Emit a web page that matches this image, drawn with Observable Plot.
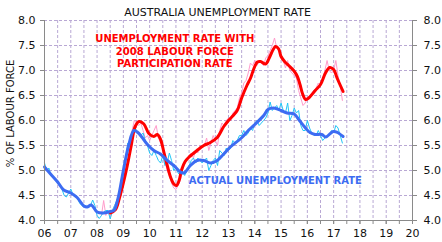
<!DOCTYPE html>
<html><head><meta charset="utf-8">
<script src="https://cdn.jsdelivr.net/npm/d3@7"></script>
<script src="https://cdn.jsdelivr.net/npm/@observablehq/plot@0.6"></script>
<style>html,body{margin:0;padding:0;background:#fff} svg{display:block}</style>
</head><body><div id="chart"></div>
<script>
const title = "AUSTRALIA UNEMPLOYMENT RATE";
const yLabel = "% OF LABOUR FORCE";
const redLabel = "UNEMPLOYMENT RATE WITH\n2008 LABOUR FORCE\nPARTICIPATION RATE";
const blueLabel = "ACTUAL UNEMPLOYMENT RATE";

const yearTicks = [2006,2007,2008,2009,2010,2011,2012,2013,2014,2015,2016,2017,2018,2019,2020];
const yearLabels = ["06","07","08","09","10","11","12","13","14","15","16","17","18","19","20"];
const halfYears = [2006,2006.5,2007,2007.5,2008,2008.5,2009,2009.5,2010,2010.5,2011,2011.5,2012,2012.5,2013,2013.5,2014,2014.5,2015,2015.5,2016,2016.5,2017,2017.5,2018,2018.5,2019,2019.5,2020];
const yTicks = [4,4.5,5,5.5,6,6.5,7,7.5,8];

// actual unemployment rate, monthly from Jan 2006
const actualStart = 2006;
const actualMonthly = [
 5.15,5.0,5.05,4.9,4.85,4.8,4.75,4.72,4.62,4.5,4.47,4.55,
 4.63,4.52,4.5,4.45,4.35,4.3,4.27,4.3,4.25,4.3,4.41,4.3,
 4.1,4.04,4.1,4.17,4.2,4.2,4.03,4.2,4.3,4.4,4.5,4.75,
 4.95,5.2,5.55,5.5,5.75,5.88,5.8,5.75,5.7,5.75,5.6,5.5,
 5.35,5.3,5.4,5.3,5.2,5.15,5.3,5.1,5.15,5.35,5.2,5.0,
 5.05,4.95,4.9,5.0,4.9,5.0,5.1,5.2,5.25,5.15,5.25,5.2,
 5.15,5.2,5.25,5.0,5.1,5.2,5.25,5.1,5.4,5.35,5.3,5.45,
 5.4,5.45,5.6,5.55,5.6,5.7,5.7,5.8,5.7,5.75,5.85,5.8,
 5.95,6.0,5.9,5.95,6.0,6.05,6.15,6.37,6.2,6.25,6.3,6.2,
 6.35,6.2,6.15,6.35,6.0,6.1,6.25,6.15,6.2,5.9,5.8,5.8,
 6.0,5.85,5.75,5.7,5.7,5.8,5.7,5.6,5.65,5.7,5.7,5.8,
 5.75,5.9,5.85,5.7,5.55
];
// rate with 2008 participation, monthly from Mar 2008
const adjustedStart = 2008 + 2/12;
const adjustedMonthly = [
 4.1,4.4,4.1,4.2,4.05,4.2,4.3,4.4,4.5,4.7,
 4.8,5.1,5.45,5.5,5.8,6.0,5.95,5.9,5.95,5.8,5.65,5.7,
 5.6,5.7,5.8,5.9,5.65,5.55,5.5,5.2,5.0,4.9,4.75,4.65,
 4.62,4.7,4.8,5.0,5.15,5.2,5.3,5.35,5.25,5.4,5.35,5.5,
 5.45,5.5,5.65,5.4,5.55,5.7,5.6,5.5,5.8,5.95,5.9,6.0,
 6.05,6.0,6.15,6.2,6.25,6.45,6.55,6.75,6.8,6.95,7.15,7.1,
 7.2,7.1,7.2,7.15,7.1,7.25,7.3,7.4,7.5,7.65,7.45,7.4,
 7.3,7.2,7.05,7.2,7.0,6.95,6.9,6.85,6.6,6.45,6.3,6.35,
 6.45,6.5,6.55,6.6,6.65,6.75,6.7,6.85,7.0,7.2,7.0,6.95,
 7.0,7.2,6.9,6.7,6.4
];
// smoothed (trend) lines
const actualTrendT = [2006.0,2006.23,2006.5,2006.73,2007.0,2007.24,2007.5,2007.62,2007.78,2008.0,2008.25,2008.5,2008.64,2008.8,2009.0,2009.2,2009.4,2009.55,2009.7,2009.9,2010.16,2010.41,2010.67,2010.92,2011.17,2011.3,2011.55,2011.8,2012.06,2012.31,2012.57,2012.82,2013.07,2013.49,2013.77,2014.0,2014.34,2014.5,2014.72,2015.0,2015.23,2015.5,2015.7,2015.93,2016.1,2016.3,2016.55,2016.7,2016.98,2017.15,2017.36];
const actualTrendV = [5.07,4.93,4.77,4.61,4.55,4.46,4.29,4.27,4.31,4.17,4.15,4.18,4.2,4.45,5.0,5.5,5.8,5.76,5.67,5.53,5.4,5.33,5.2,5.1,4.97,4.95,5.1,5.2,5.2,5.15,5.2,5.33,5.47,5.65,5.81,5.92,6.1,6.22,6.25,6.2,6.15,6.13,6.0,5.85,5.76,5.72,5.72,5.67,5.78,5.76,5.68];
const adjustedTrendT = [2008.5,2008.7,2008.85,2009.0,2009.15,2009.3,2009.45,2009.6,2009.78,2009.97,2010.16,2010.29,2010.41,2010.54,2010.67,2010.8,2010.92,2011.02,2011.12,2011.22,2011.35,2011.5,2011.8,2012.06,2012.31,2012.57,2012.82,2013.0,2013.33,2013.5,2013.7,2013.84,2013.96,2014.1,2014.22,2014.41,2014.55,2014.7,2014.79,2014.91,2015.0,2015.15,2015.29,2015.48,2015.62,2015.72,2015.82,2015.93,2016.05,2016.3,2016.5,2016.69,2016.85,2017.0,2017.13,2017.36];
const adjustedTrendV = [4.15,4.22,4.45,4.75,5.1,5.5,5.88,5.98,5.93,5.74,5.68,5.72,5.63,5.37,5.1,4.86,4.73,4.7,4.8,5.02,5.18,5.27,5.4,5.5,5.56,5.66,5.88,6.0,6.2,6.45,6.7,6.85,7.03,7.17,7.18,7.13,7.25,7.42,7.48,7.43,7.28,7.17,7.1,7.0,6.88,6.72,6.53,6.42,6.45,6.6,6.72,6.95,7.06,7.02,6.85,6.58];

const actual = actualMonthly.map((v, i) => ({t: actualStart + i / 12, v}));
const adjusted = adjustedMonthly.map((v, i) => ({t: adjustedStart + i / 12, v}));
const actualTrend = actualTrendT.map((t, i) => ({t, v: actualTrendV[i]}));
const adjustedTrend = adjustedTrendT.map((t, i) => ({t, v: adjustedTrendV[i]}));

const grid = {stroke: "#b9a8d4", strokeOpacity: 1, strokeDasharray: "3,2", strokeWidth: 1};
const axisColor = "#8a8a8a";

const chart = Plot.plot({
  width: 442, height: 242,
  marginLeft: 44, marginRight: 30, marginTop: 20, marginBottom: 22,
  style: {fontFamily: "DejaVu Sans, Verdana, sans-serif", fontSize: "11px", color: "#111", background: "#fff"},
  x: {domain: [2006, 2020]},
  y: {domain: [4, 8]},
  marks: [
    Plot.gridX(halfYears, grid),
    Plot.gridY(yTicks, grid),
    Plot.line(adjusted, {x: "t", y: "v", stroke: "#ff9ccc", strokeWidth: 1}),
    Plot.line(actual, {x: "t", y: "v", stroke: "#22c6f7", strokeWidth: 1}),
    Plot.line(adjustedTrend, {x: "t", y: "v", stroke: "#ff0000", strokeWidth: 3, curve: "catmull-rom", strokeLinecap: "round"}),
    Plot.line(actualTrend, {x: "t", y: "v", stroke: "#3d6cf2", strokeWidth: 3, curve: "catmull-rom", strokeLinecap: "round"}),
    Plot.ruleX([2006, 2020], {stroke: axisColor}),
    Plot.ruleY([4], {stroke: axisColor}),
    Plot.axisY(yTicks, {anchor: "left", tickSize: 4, tickPadding: 5, stroke: axisColor, tickFormat: d3.format(".1f"), label: null, fill: "#111"}),
    Plot.axisY(yTicks, {anchor: "right", tickSize: 4, tickPadding: 7, stroke: axisColor, tickFormat: d3.format(".1f"), label: null, fill: "#111"}),
    Plot.axisX(halfYears, {tickSize: 4, stroke: axisColor, tickFormat: () => "", label: null}),
    Plot.axisX(yearTicks, {tickSize: 4, tickPadding: 5, stroke: axisColor, tickFormat: d => yearLabels[yearTicks.indexOf(d)], label: null, fill: "#111"}),
    Plot.text([yLabel], {frameAnchor: "left", textAnchor: "middle", dx: -34, dy: -7, rotate: -90, fontSize: 10, fill: "#111", lineAnchor: "middle"}),
    Plot.text([title], {frameAnchor: "top", dx: -11, dy: -8, fontSize: 11, fill: "#111", lineAnchor: "middle"}),
    Plot.text([redLabel], {x: 2010.96, y: 7.4, fontSize: 10, fontWeight: "bold", fill: "#ff0000", lineHeight: 1.25, lineAnchor: "middle"}),
    Plot.text([blueLabel], {x: 2014.78, y: 4.8, fontSize: 10, fontWeight: "bold", fill: "#3d6cf2", lineAnchor: "middle"})
  ]
});
document.getElementById("chart").appendChild(chart);
</script>
</body></html>
